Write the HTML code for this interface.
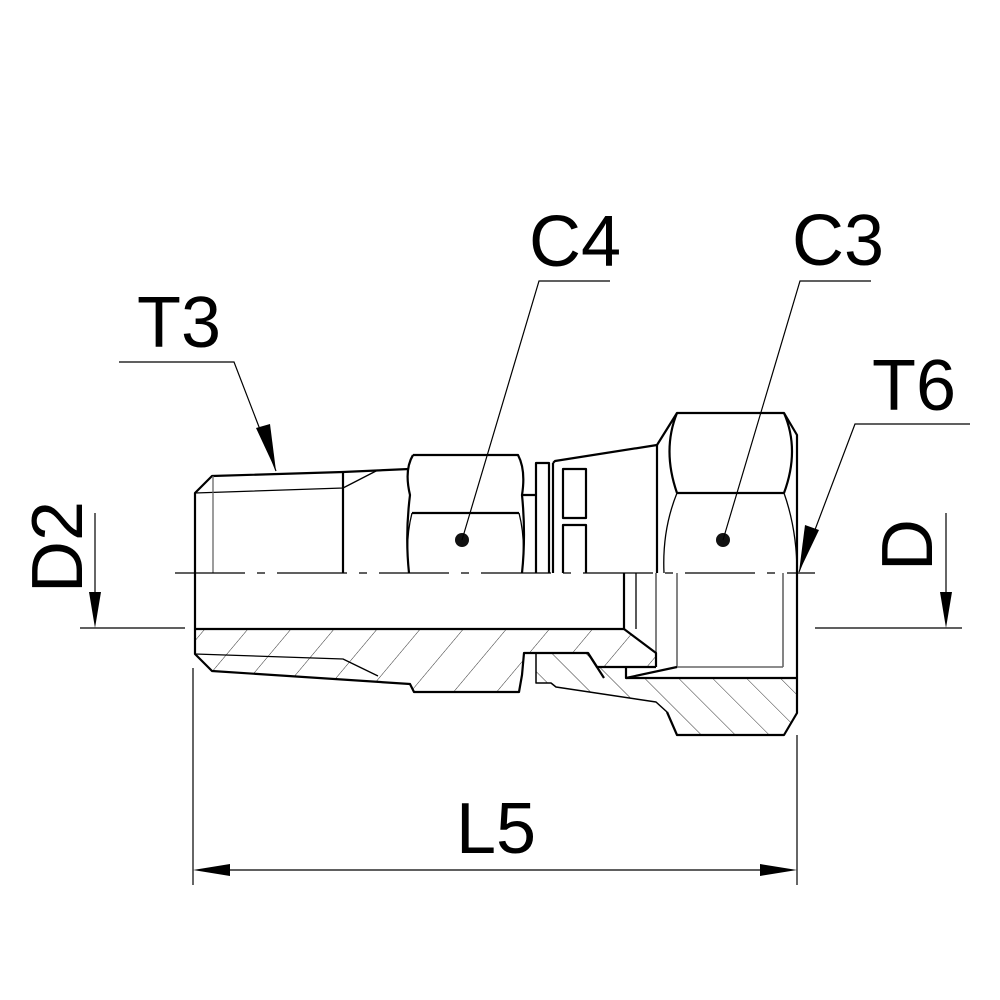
<!DOCTYPE html>
<html><head><meta charset="utf-8"><style>
html,body{margin:0;padding:0;background:#fff;width:1000px;height:1000px;overflow:hidden}
svg{display:block}
text{font-family:"Liberation Sans",Arial,sans-serif;fill:#000}
</style></head><body>
<svg width="1000" height="1000" viewBox="0 0 1000 1000" xmlns="http://www.w3.org/2000/svg">
<defs>
<pattern id="hA" patternUnits="userSpaceOnUse" width="33" height="33" patternTransform="rotate(40)">
<line x1="0" y1="0" x2="0" y2="33" stroke="#333" stroke-width="1"/></pattern>
<pattern id="hB" patternUnits="userSpaceOnUse" width="24" height="24" patternTransform="rotate(-45)">
<line x1="0" y1="0" x2="0" y2="24" stroke="#333" stroke-width="1"/></pattern>
</defs>
<rect width="1000" height="1000" fill="#fff"/>

<!-- hatched regions -->
<path d="M195,629 L624,629 L656,653 L656,667 L626,667 L597,667 L588,653 L524,653 L522,675 L519,692 L414,692 L410,684 L212,671 L195,654 Z" fill="url(#hA)"/>
<path d="M536,653 L588,653 L597,667 L626,667 L626,678 L797,678 L797,713 L784,735 L677,735 L667,712 L656,702 L556,687 L551,683 L536,683 Z" fill="url(#hB)"/>

<g fill="none" stroke="#000" stroke-width="2.2" stroke-linejoin="round">
<!-- adapter outline top -->
<path d="M195,629 L195,493 L212,476 L343,472 L409,469"/>
<path d="M195,493 L343,488 L378,470" stroke-width="1.3"/>
<line x1="343" y1="472" x2="343" y2="573"/>
<line x1="213" y1="476" x2="213" y2="573" stroke="#666" stroke-width="1.3"/>
<!-- hex 1 -->
<path d="M413,455 L518,455 Q526,470 522,495 L535,495"/>
<path d="M413,455 Q404,470 410,495 Q405,535 409,573"/>
<path d="M522,495 Q526,535 522,573"/>
<path d="M413,455 Q405,475 413,513 L518,513 Q527,475 518,455" stroke-width="0"/>
<line x1="412" y1="513" x2="519" y2="513"/>
<path d="M412,513 Q405,540 409,573 M519,513 Q526,540 522,573" stroke-width="1.3"/>
<!-- ring -->
<path d="M536,573 L536,463 L549,463 L549,573"/>
<line x1="553" y1="463" x2="553" y2="573"/>
<path d="M553,463 L555,461 L657,445 L677,413 L784,413 L797,435 L797,713 L784,735 L677,735 L667,712"/>
<line x1="657" y1="445" x2="657" y2="573"/>
<rect x="563" y="469" width="23" height="49"/>
<path d="M563,573 L563,525 L586,525 L586,573"/>
<!-- hex2 -->
<line x1="677" y1="493" x2="784" y2="493"/>
<path d="M677,413 Q662,450 677,493 M784,413 Q800,450 784,493"/>
<path d="M677,493 Q662,530 664,573 M784,493 Q797,530 797,573" stroke-width="1.3"/>
<!-- bore -->
<line x1="195" y1="629" x2="624" y2="629"/>
<line x1="624" y1="573" x2="624" y2="629"/>
<line x1="636" y1="573" x2="636" y2="629" stroke-width="1.3"/>
<line x1="656" y1="573" x2="656" y2="667" stroke="#555" stroke-width="1.5"/>
<line x1="677" y1="573" x2="677" y2="667" stroke="#666" stroke-width="1.6"/>
<line x1="783" y1="573" x2="783" y2="667" stroke="#666" stroke-width="1.6"/>
<line x1="677" y1="667" x2="783" y2="667" stroke="#666" stroke-width="1.6"/>
<!-- lower adapter -->
<path d="M195,629 L195,654 L212,671 L410,684 L414,692 L519,692 L522,675 L524,653 L588,653 L597,667 L656,667"/>
<path d="M195,654 L343,659 L378,676" stroke-width="1.3"/>
<path d="M624,629 L656,653 L656,667" />
<!-- sleeve/nut lower -->
<path d="M536,653 L536,683 L551,683 L556,687 L656,702 L667,712" stroke-width="1.5"/>
<path d="M626,667 L626,678 L677,667"/>
<line x1="626" y1="678" x2="797" y2="678"/>
<path d="M588,653 L604,678"/>
</g>

<!-- centerline -->
<line x1="175" y1="573" x2="815" y2="573" stroke="#000" stroke-width="1.3" stroke-dasharray="70,12,8,12"/>

<!-- dots -->
<circle cx="462" cy="540" r="7" fill="#111"/>
<circle cx="723" cy="540" r="7" fill="#111"/>

<g stroke="#000" stroke-width="1.2" fill="none">
<!-- T3 -->
<polyline points="119,362 234,362 276,471"/>
<!-- C4 -->
<polyline points="610,281 539,281 462,540"/>
<!-- C3 -->
<polyline points="871,281 800,281 723,540"/>
<!-- T6 -->
<polyline points="970,424 855,424 799,572"/>
<!-- D2 -->
<line x1="95" y1="513" x2="95" y2="600"/>
<line x1="80" y1="628" x2="185" y2="628"/>
<!-- D -->
<line x1="946" y1="513" x2="946" y2="600"/>
<line x1="815" y1="628" x2="962" y2="628"/>
<!-- L5 -->
<line x1="193" y1="668" x2="193" y2="885"/>
<line x1="797" y1="735" x2="797" y2="885"/>
<line x1="220" y1="870" x2="770" y2="870"/>
</g>
<g fill="#000">
<polygon points="276,471 256,428 270,424"/>
<polygon points="799,572 805,525 819,530"/>
<polygon points="95,628 89,592 101,592"/>
<polygon points="946,628 940,592 952,592"/>
<polygon points="193,870 230,864 230,876"/>
<polygon points="797,870 760,864 760,876"/>
</g>

<text x="137" y="347" font-size="72">T3</text>
<text x="529" y="266" font-size="72">C4</text>
<text x="792" y="265" font-size="72">C3</text>
<text x="872" y="410" font-size="72">T6</text>
<text x="456" y="853" font-size="72">L5</text>
<text transform="translate(82,593) rotate(-90)" font-size="72">D2</text>
<text transform="translate(932,571) rotate(-90)" font-size="72">D</text>
</svg>
</body></html>
